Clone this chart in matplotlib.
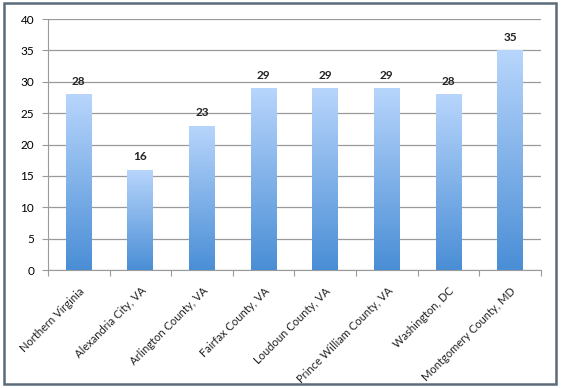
import numpy as np
import matplotlib.pyplot as plt
from matplotlib.patches import Rectangle
from matplotlib.colors import LinearSegmentedColormap

regions = ['Northern Virginia', 'Alexandria City, VA', 'Arlington County, VA',
           'Fairfax County, VA', 'Loudoun County, VA', 'Prince William County, VA',
           'Washington, DC', 'Montgomery County, MD']
values = [28, 16, 23, 29, 29, 29, 28, 35]
yticks = [0, 5, 10, 15, 20, 25, 30, 35, 40]

plt.rcParams['font.family'] = ['Lato', 'DejaVu Sans']

fig = plt.figure(figsize=(5.62, 3.88), dpi=100)
ax = fig.add_axes([0.0854, 0.304, 0.877, 0.647])

# gradient: darker blue at the bottom, light at the top
cmap = LinearSegmentedColormap.from_list('bar', ['#4a8ed6', '#b8d6fc'])
grad = np.linspace(0, 1, 256).reshape(-1, 1)
width = 0.42
x = np.arange(len(values))
bars = ax.bar(x, values, width=width, color='none', edgecolor='none', zorder=3)
for b, v in zip(bars, values):
    im = ax.imshow(grad, cmap=cmap, origin='lower', aspect='auto',
                   extent=(b.get_x(), b.get_x() + b.get_width(), 0, v), zorder=3)
    im.set_clip_path(b)
    ax.text(b.get_x() + b.get_width() / 2, v + 1.2, str(v), ha='center', va='bottom',
            fontsize=8.5, fontweight='bold', color='#222222')

ax.set_xlim(-0.5, len(values) - 0.5)
ax.set_ylim(0, 40)
ax.set_yticks(yticks)
ax.yaxis.grid(True, color='#9a9a9a', linewidth=0.9)
ax.set_axisbelow(True)
for s in ['top', 'right']:
    ax.spines[s].set_visible(False)
ax.spines['left'].set_color('#9a9a9a')
ax.spines['bottom'].set_color('#9a9a9a')
ax.tick_params(axis='y', length=4, color='#9a9a9a', labelsize=8.5, pad=6)

# category labels between boundary ticks
ax.set_xticks(np.arange(len(values) + 1) - 0.5)
ax.set_xticklabels([])
ax.tick_params(axis='x', length=4, color='#9a9a9a', direction='out')
for i, name in enumerate(regions):
    ax.annotate(name, xy=(i, 0), xycoords=('data', 'data'), xytext=(0, -11),
                textcoords='offset points', rotation=45, ha='right', va='top',
                rotation_mode='anchor', fontsize=8, color='#222222')

# outer frame
fig.patches.append(Rectangle((0.008, 0.01), 0.982, 0.982, transform=fig.transFigure,
                             fill=False, edgecolor='#5b6b7a', linewidth=1.8))

fig.savefig('out.png', dpi=100)
